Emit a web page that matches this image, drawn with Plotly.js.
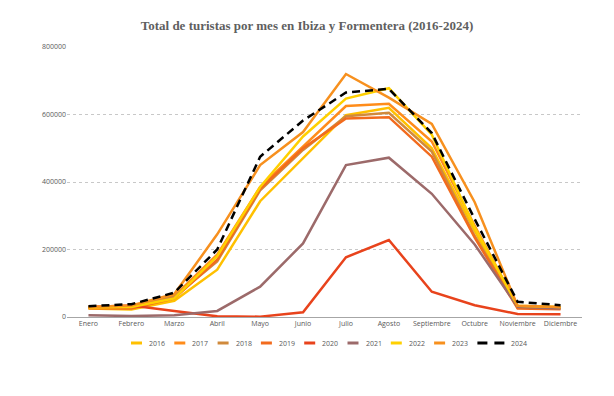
<!DOCTYPE html>
<html>
<head>
<meta charset="utf-8">
<script src="https://cdn.plot.ly/plotly-3.0.1.min.js"></script>
<style>html,body{margin:0;padding:0;background:#fff;}#chart{width:614px;height:396px;}</style>
</head>
<body>
<div id="chart"></div>
<script>
const months = ["Enero","Febrero","Marzo","Abril","Mayo","Junio","Julio","Agosto","Septiembre","Octubre","Noviembre","Diciembre"];
const years = ["2016","2017","2018","2019","2020","2021","2022","2023","2024"];
const v2016 = [25000, 22000, 48000, 140000, 343000, 470000, 598000, 620000, 500000, 255000, 28000, 25000];
const v2017 = [30000, 28000, 62000, 185000, 385000, 505000, 625000, 632000, 520000, 270000, 32000, 28000];
const v2018 = [28000, 30000, 60000, 165000, 375000, 495000, 595000, 605000, 490000, 240000, 28000, 27000];
const v2019 = [26000, 25000, 55000, 170000, 380000, 500000, 588000, 592000, 475000, 235000, 25000, 23000];
const v2020 = [30000, 34000, 18000, 2000, 1000, 14000, 177000, 228000, 75000, 35000, 9000, 8000];
const v2021 = [5000, 3000, 5000, 18000, 90000, 218000, 450000, 472000, 365000, 215000, 30000, 25000];
const v2022 = [28000, 30000, 55000, 180000, 385000, 535000, 647000, 678000, 540000, 265000, 33000, 30000];
const v2023 = [30000, 34000, 68000, 245000, 450000, 548000, 720000, 650000, 572000, 340000, 33000, 30000];
const v2024 = [32000, 38000, 72000, 200000, 475000, 582000, 665000, 676000, 545000, 290000, 45000, 35000];
const yTicks = [0, 200000, 400000, 600000, 800000];

const series = [v2016, v2017, v2018, v2019, v2020, v2021, v2022, v2023, v2024];
const colors = ["#FFC000", "#FF8C1A", "#D08A3C", "#F26B1D", "#E8431C", "#9C6A6A", "#FFD000", "#F7901E", "#000000"];
const dashes = ["solid","solid","solid","solid","solid","solid","solid","solid","8px,5px"];

const traces = series.map((vals, i) => ({
  type: "scatter",
  mode: "lines",
  x: months,
  y: vals,
  name: years[i],
  line: {color: colors[i], width: 2.5, dash: dashes[i]},
  hoverinfo: "skip"
}));

// Custom legend (short symbols like the reference), positioned in paper space
const M = {l: 67, r: 32, t: 47, b: 79};
const W = 614, H = 396;
const pw = W - M.l - M.r, ph = H - M.t - M.b;
const px2x = p => (p - M.l) / pw;
const py2y = p => (H - M.b - p) / ph;
const legY = 343, legX0 = 131, legStep = 43.3;
const shapes = [], annotations = [];
years.forEach((yr, i) => {
  const x0 = legX0 + legStep * i;
  const isLast = i === years.length - 1;
  const symW = isLast ? 27 : 11;
  shapes.push({type: "line", xref: "paper", yref: "paper",
    x0: px2x(x0), x1: px2x(x0 + symW), y0: py2y(legY), y1: py2y(legY),
    line: {color: colors[i], width: 3, dash: isLast ? "10px,7px" : "solid"}});
  annotations.push({xref: "paper", yref: "paper", x: px2x(x0 + symW + 5), y: py2y(legY),
    xanchor: "left", yanchor: "middle", showarrow: false, text: yr,
    font: {family: "Open Sans, sans-serif", size: 7, color: "#595959"}});
});

const layout = {
  width: W, height: H,
  paper_bgcolor: "#fff", plot_bgcolor: "#fff",
  margin: M,
  title: {text: "<b>Total de turistas por mes en Ibiza y Formentera (2016-2024)</b>",
    font: {family: "Liberation Serif, serif", size: 13, color: "#5f5f5f"},
    x: 0.5, xanchor: "center", y: 0.935, yanchor: "middle"},
  showlegend: false,
  shapes: shapes,
  annotations: annotations,
  xaxis: {type: "category", range: [-0.5, 11.5], showgrid: false, zeroline: false,
    showline: true, linecolor: "#a6a6a6", linewidth: 1,
    ticks: "", tickfont: {family: "Open Sans, sans-serif", size: 7, color: "#595959"},
    fixedrange: true},
  yaxis: {range: [0, 800000], tickvals: yTicks, ticktext: yTicks.map(String),
    showgrid: true, gridcolor: "#c8c8c8", griddash: "dot", gridwidth: 1,
    zeroline: false, showline: false, ticks: "",
    tickfont: {family: "Open Sans, sans-serif", size: 7, color: "#595959"},
    fixedrange: true}
};

Plotly.newPlot("chart", traces, layout, {displayModeBar: false, staticPlot: true});
</script>
</body>
</html>
